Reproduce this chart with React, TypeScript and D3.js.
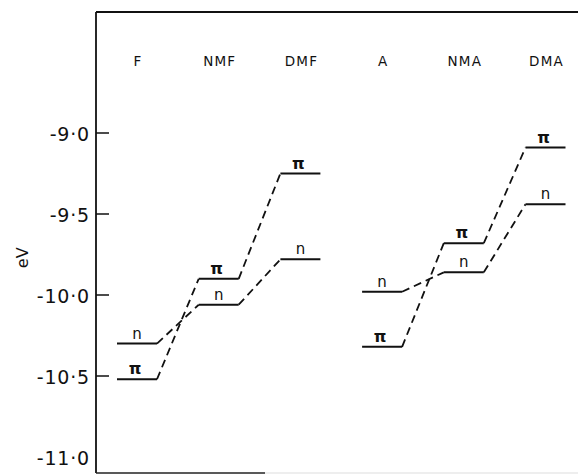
import React from "react";
import * as d3 from "d3";

const molecules = ["F", "NMF", "DMF", "A", "NMA", "DMA"];
const nLevels = [-10.30, -10.06, -9.78, -9.98, -9.86, -9.44];
const piLevels = [-10.52, -9.90, -9.25, -10.32, -9.68, -9.09];
const groups = [[0, 1, 2], [3, 4, 5]];
const yTicks = [-9.0, -9.5, -10.0, -10.5, -11.0];

const W = 584;
const H = 475;
const plot = { left: 96, top: 12, right: 578, bottom: 473 };

export default function App() {
  const y = d3.scaleLinear().domain([-9.0, -11.0]).range([133, 457]);
  const x = d3.scaleLinear().domain([0, 5]).range([137, 545.5]);
  const half = 20;
  const fmt = (v: number) => d3.format(".1f")(v).replace("−", "-").replace(".", "·");

  const connectors: { x1: number; y1: number; x2: number; y2: number }[] = [];
  groups.forEach((g) => {
    for (let k = 0; k < g.length - 1; k++) {
      const a = g[k];
      const b = g[k + 1];
      [nLevels, piLevels].forEach((arr) => {
        connectors.push({ x1: x(a) + half, y1: y(arr[a]), x2: x(b) - half, y2: y(arr[b]) });
      });
    }
  });

  const font = "'DejaVu Sans', 'Liberation Sans', Arial, sans-serif";

  return (
    <svg width={W} height={H} style={{ position: "absolute", left: 0, top: 0, background: "#fff" }}>
      {/* frame */}
      <line x1={plot.left} y1={plot.top} x2={plot.right} y2={plot.top} stroke="#111" strokeWidth={2} />
      <line x1={plot.left} y1={plot.top} x2={plot.left} y2={plot.bottom} stroke="#111" strokeWidth={1.8} />
      <line x1={plot.left} y1={plot.bottom} x2={265} y2={plot.bottom} stroke="#222" strokeWidth={1.5} />
      <line x1={265} y1={plot.bottom} x2={plot.right} y2={plot.bottom} stroke="#ddd" strokeWidth={1} />

      {/* y ticks */}
      {yTicks.map((t) => (
        <g key={t}>
          {t > -11 && (
            <line x1={plot.left} x2={plot.left + 13} y1={y(t)} y2={y(t)} stroke="#111" strokeWidth={1.5} />
          )}
          <text
            x={90}
            y={y(t) + 8}
            textAnchor="end"
            fontFamily={font}
            fontSize={19}
            letterSpacing={0.8}
            fill="#111"
          >
            {fmt(t)}
          </text>
        </g>
      ))}
      <text
        transform={`translate(28,${y(-9.77)}) rotate(-90)`}
        textAnchor="middle"
        fontFamily={font}
        fontSize={16}
        fill="#111"
      >
        eV
      </text>

      {/* column labels */}
      {molecules.map((m, i) => (
        <text
          key={m}
          x={x(i) + 1}
          y={66}
          textAnchor="middle"
          fontFamily={font}
          fontSize={13.5}
          letterSpacing={1.2}
          fill="#111"
        >
          {m}
        </text>
      ))}

      {/* connectors */}
      {connectors.map((c, i) => (
        <line
          key={i}
          x1={c.x1}
          y1={c.y1}
          x2={c.x2}
          y2={c.y2}
          stroke="#111"
          strokeWidth={1.8}
          strokeDasharray="8,5"
        />
      ))}

      {/* levels */}
      {molecules.map((m, i) => (
        <g key={m + "lv"}>
          <line x1={x(i) - half} x2={x(i) + half} y1={y(nLevels[i])} y2={y(nLevels[i])} stroke="#111" strokeWidth={2} />
          <line x1={x(i) - half} x2={x(i) + half} y1={y(piLevels[i])} y2={y(piLevels[i])} stroke="#111" strokeWidth={2} />
          <text x={x(i)} y={y(nLevels[i]) - 5} textAnchor="middle" fontFamily={font} fontSize={15} fill="#111">
            n
          </text>
          <text x={x(i) - 2} y={y(piLevels[i]) - 5} textAnchor="middle" fontFamily={font} fontSize={16} fontWeight="bold" fill="#111">
            π
          </text>
        </g>
      ))}
    </svg>
  );
}
